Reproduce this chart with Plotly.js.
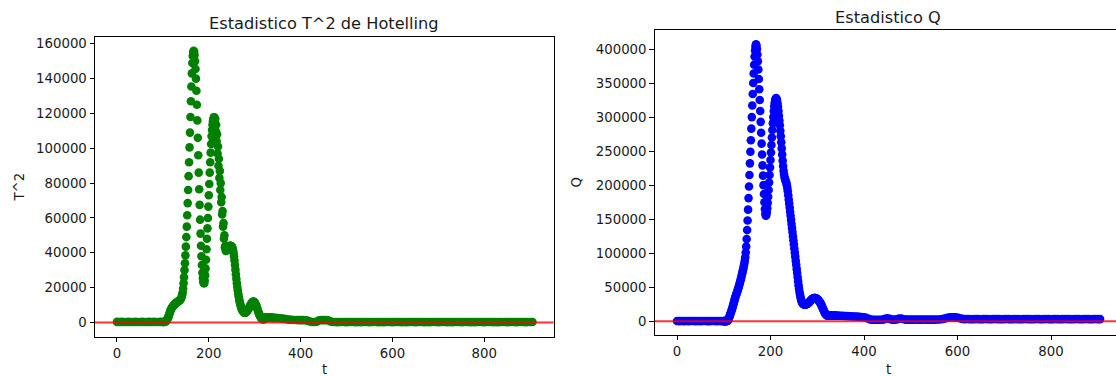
<!DOCTYPE html>
<html>
<head>
<meta charset="utf-8">
<script src="https://cdn.plot.ly/plotly-3.0.1.min.js"></script>
<style>
  html, body { margin: 0; padding: 0; background: #fff; }
  #chart { width: 1116px; height: 376px; }
</style>
</head>
<body>
<div id="chart"></div>
<script>
// ---------------- DATA ----------------
// time index samples (t)
const tHead = [0,5,10,15,20,25,30,35,40,45,50,55,60,65,70,75,80,85,90,95];
const tPeak = [
  100,101,102,103,104,105,106,107,108,109,
  110,111,112,113,114,115,116,117,118,119,
  120,121,122,123,124,125,126,127,128,129,
  130,131,132,133,134,135,136,137,138,139,
  140,141,142,143,144,145,146,147,148,149,
  150,151,152,153,154,155,156,157,158,159,
  160,161,162,163,164,165,166,167,168,169,
  170,171,172,173,174,175,176,177,178,179,
  180,181,182,183,184,185,186,187,188,189,
  190,191,192,193,194,195,196,197,198,199,
  200,201,202,203,204,205,206,207,208,209,
  210,211,212,213,214,215,216,217,218,219,
  220,221,222,223,224,225,226,227,228,229,
  230,231,232,233,234,235,236,237,238,239,
  240,241,242,243,244,245,246,247,248,249,
  250,251,252,253,254,255,256,257,258,259,
  260,261,262,263,264,265,266,267,268,269,
  270,271,272,273,274,275,276,277,278,279,
  280,281,282,283,284,285,286,287,288,289,
  290,291,292,293,294,295,296,297,298,299,
  300,301,302,303,304,305,306,307,308,309,
  310,311,312,313,314,315,316,317,318,319,
  320,321,322,323,324,325,326,327,328,329,
  330,331,332,333,334,335,336,337,338,339,
  340
];
const tTail = [
  345,350,355,360,365,370,375,380,385,390,
  395,400,405,410,415,420,425,430,435,440,
  445,450,455,460,465,470,475,480,485,490,
  495,500,505,510,515,520,525,530,535,540,
  545,550,555,560,565,570,575,580,585,590,
  595,600,605,610,615,620,625,630,635,640,
  645,650,655,660,665,670,675,680,685,690,
  695,700,705,710,715,720,725,730,735,740,
  745,750,755,760,765,770,775,780,785,790,
  795,800,805,810,815,820,825,830,835,840,
  845,850,855,860,865,870,875,880,885,890,
  895,900,905
];

// Hotelling T^2 statistic
const T2Head = [300,250,300,200,250,300,200,250,300,250,200,300,250,200,300,250,300,200,250,300];
const T2Peak = [
  200,200,250,300,350,450,600,800,1100,1500,
  2000,2600,3300,4000,4800,5600,6400,7100,7700,8200,
  8600,9000,9300,9600,9900,10200,10500,10800,11000,11200,
  11400,11600,11800,12000,12200,12400,12600,12900,13200,13600,
  14100,14800,15800,17200,19500,22500,26000,30000,34000,38500,
  43500,49000,55000,61500,68500,76000,84000,92000,100500,109000,
  118000,127000,135500,143000,149000,153000,155300,156000,155500,153500,
  150000,145500,140000,133000,125000,116000,106000,96000,86000,76500,
  67500,59000,51000,44000,38000,33000,28500,25500,23500,22500,
  22500,24000,27000,31000,36000,42000,48000,54000,60000,66500,
  73000,79500,86000,92000,97500,102500,107000,110500,113500,115500,
  117000,117800,117800,115500,117000,110000,113500,104000,108000,97000,
  101000,90000,94000,83000,87000,76000,80000,69000,72000,62000,
  64000,55000,57000,48000,50000,43000,44000,41000,41500,41500,
  42000,42500,43000,43400,43700,43900,44000,44000,43900,43800,
  43600,43100,42300,41200,39700,37800,35500,33000,30300,27600,
  25000,22600,20400,18400,16600,15000,13500,12200,11000,10000,
  9100,8300,7600,7000,6500,6100,5800,5600,5500,5500,
  5600,5800,6100,6400,6800,7200,7600,8100,8600,9100,
  9600,10100,10600,11000,11400,11700,11900,12000,11900,11700,
  11400,11000,10500,9900,9200,8400,7600,6800,6000,5300,
  4600,4000,3500,3000,2600,2300,2100,1900,1800,1800,
  1900,2000,2200,2400,2600,2800,2900,3000,3000,3000,
  3000,3000,2900,2900,2800,2800,2700,2700,2700,2600,
  2600
];
const T2Tail = [
  2600,2500,2400,2200,2000,1800,1600,1500,1400,1400,
  1300,1300,1300,1200,1000,500,200,200,400,1200,
  1300,1300,1300,1200,600,200,
  200,150,200,250,200,150,200,250,200,150,
  200,150,200,250,200,150,200,250,200,150,
  200,150,200,250,200,150,200,250,200,150,
  200,150,200,250,200,150,200,250,200,150,
  200,150,200,250,200,150,200,250,200,150,
  200,150,200,250,200,150,200,250,200,150,
  200,150,200,250,200,150,200,250,200,150,
  200,150,200,250,200,150,200,250,200,150,
  200,250,200,150,200,250,200
];

// Q statistic
const QHead = [400,300,350,300,400,300,350,400,300,350,300,400,350,300,300,350,400,300,350,300];
const QPeak = [
  300,300,300,300,300,300,350,450,700,1200,
  2500,4500,6500,8500,10500,12500,14500,16500,18500,21000,
  23500,26000,28500,31000,33500,36000,38000,40000,42000,44000,
  46000,48000,50500,53000,55500,58000,60500,63000,66000,69000,
  72000,75000,78000,81500,85000,89000,94000,101000,110000,121000,
  134000,148000,164000,181000,198000,215000,232000,249000,266000,283000,
  300000,317000,334000,350000,364000,377000,389000,398000,404000,407000,
  405000,400000,392000,382000,370000,356000,341000,325000,309000,293000,
  277000,261000,245000,229000,214000,200000,187000,175000,165000,158000,
  155000,156000,160000,166000,174000,183000,193000,204000,215000,226000,
  237000,248000,259000,270000,281000,291000,300000,309000,316000,321000,
  325000,327000,328000,327000,324000,320000,315000,309000,302000,295000,
  288000,280000,272000,263000,254000,245000,236000,228000,221000,216000,
  212000,209000,207000,205000,203000,200000,196000,191000,185000,179000,
  173000,167000,161000,155000,149000,143000,137000,131000,125000,119000,
  113000,107000,101000,95000,89000,83000,77000,71000,65000,59000,
  53000,48000,43500,39500,36000,33000,30500,28500,27000,26000,
  25500,25000,24700,24500,24500,24600,24800,25000,25300,25700,
  26200,26800,27500,28200,29000,29800,30600,31300,32000,32600,
  33100,33500,33800,34000,34100,34100,34000,33800,33500,33100,
  32600,32000,31300,30500,29600,28600,27500,26300,25000,23600,
  22100,20500,18900,17300,15700,14200,12800,11500,10400,9500,
  8900,8500,8300,8300,8300,8300,8300,8300,8300,8300,
  8300,8300,8300,8300,8300,8300,8300,8300,8300,8300,
  8300
];
const QTail = [
  8300,8200,8000,7800,7600,7400,7200,7000,6800,6600,
  6300,6000,5200,3500,2500,2300,2200,2200,2300,2500,
  3500,4500,3500,2500,2400,2800,4000,4200,3000,2500,
  2500,2400,2500,2600,2500,2400,2500,2600,2500,2500,
  2400,2500,2600,2700,
  3000,3500,4500,5500,6000,6000,5800,5500,4500,3500,
  3200,3300,3200,3100,3200,3300,3200,3100,3200,3300,
  3200,3100,3200,3300,3200,3200,3100,3200,3300,3200,
  3100,3200,3300,3200,3100,3200,3300,3200,3200,3100,
  3200,3300,3200,3100,3200,3300,3200,3100,3200,3300,
  3200,3100,3200,3300,3200,3200,3100,3200,3300,3200,
  3100,3200,3300,3200,3100,3200,3300,3200,3200
];

// control limits (red horizontal lines)
const limitT2 = 0;
const limitQ = 0;

// labels
const titleT2 = 'Estadistico T^2 de Hotelling';
const titleQ = 'Estadistico Q';
const xLabel = 't';
const yLabelT2 = 'T^2';
const yLabelQ = 'Q';

// ---------------- BUILD ----------------
const t = tHead.concat(tPeak, tTail);
const T2 = T2Head.concat(T2Peak, T2Tail);
const Q = QHead.concat(QPeak, QTail);
if (t.length !== T2.length || t.length !== Q.length) {
  throw new Error('length mismatch t=' + t.length + ' T2=' + T2.length + ' Q=' + Q.length);
}

const W = 1116, H = 376;
const FONT = 'DejaVu Sans, Liberation Sans, sans-serif';
const TXT = '#1a1a1a';
const px = v => v / W;
const py = v => 1 - v / H;
const TICK_SIZE = 13.3;

const traces = [
  { x: t, y: T2, type: 'scatter', mode: 'markers', xaxis: 'x', yaxis: 'y',
    marker: { color: '#008000', size: 8.6, line: { width: 0 } }, hoverinfo: 'x+y' },
  { x: t, y: Q, type: 'scatter', mode: 'markers', xaxis: 'x2', yaxis: 'y2',
    marker: { color: '#0000ff', size: 8.6, line: { width: 0 } }, hoverinfo: 'x+y' }
];

const axBase = {
  showgrid: false, zeroline: false, showline: true, linecolor: '#000', linewidth: 1,
  ticks: 'outside', ticklen: 4.5, tickwidth: 1, tickcolor: '#000',
  tickfont: { family: FONT, size: TICK_SIZE, color: TXT }
};

const layout = {
  width: W, height: H,
  margin: { l: 0, r: 0, t: 0, b: 0 },
  paper_bgcolor: '#fff', plot_bgcolor: '#fff',
  showlegend: false,
  xaxis: Object.assign({}, axBase, {
    domain: [px(95), px(553.7)], range: [-47.9, 951.2], tick0: 0, dtick: 200, mirror: true, anchor: 'y'
  }),
  yaxis: Object.assign({}, axBase, {
    domain: [py(336.7), py(37.3)], range: [-8212, 163733], tick0: 0, dtick: 20000,
    tickformat: 'd', mirror: true, anchor: 'x'
  }),
  xaxis2: Object.assign({}, axBase, {
    domain: [px(654.7), 1], range: [-47.7, 939.0], tick0: 0, dtick: 200, mirror: true, anchor: 'y2'
  }),
  yaxis2: Object.assign({}, axBase, {
    domain: [py(334.7), py(30.3)], range: [-19700, 427500], tick0: 0, dtick: 50000,
    tickformat: 'd', mirror: false, anchor: 'x2'
  }),
  shapes: [
    { type: 'line', xref: 'x domain', yref: 'y', x0: 0, x1: 1, y0: limitT2, y1: limitT2,
      line: { color: 'rgba(255,0,0,0.8)', width: 2 }, layer: 'above' },
    { type: 'line', xref: 'x2 domain', yref: 'y2', x0: 0, x1: 1, y0: limitQ, y1: limitQ,
      line: { color: 'rgba(255,0,0,0.8)', width: 2 }, layer: 'above' }
  ],
  annotations: [
    { text: titleT2, xref: 'paper', yref: 'paper', x: px(324.3), y: py(24), xanchor: 'center', yanchor: 'middle',
      showarrow: false, font: { family: FONT, size: 16.2, color: TXT } },
    { text: titleQ, xref: 'paper', yref: 'paper', x: px(888.2), y: py(18), xanchor: 'center', yanchor: 'middle',
      showarrow: false, font: { family: FONT, size: 16.2, color: TXT } },
    { text: xLabel, xref: 'paper', yref: 'paper', x: px(324.3), y: py(369), xanchor: 'center', yanchor: 'middle',
      showarrow: false, font: { family: FONT, size: TICK_SIZE, color: TXT } },
    { text: xLabel, xref: 'paper', yref: 'paper', x: px(888.2), y: py(369), xanchor: 'center', yanchor: 'middle',
      showarrow: false, font: { family: FONT, size: TICK_SIZE, color: TXT } },
    { text: yLabelT2, xref: 'paper', yref: 'paper', x: px(18.5), y: py(187), xanchor: 'center', yanchor: 'middle',
      textangle: -90, showarrow: false, font: { family: FONT, size: TICK_SIZE, color: TXT } },
    { text: yLabelQ, xref: 'paper', yref: 'paper', x: px(576), y: py(182.5), xanchor: 'center', yanchor: 'middle',
      textangle: -90, showarrow: false, font: { family: FONT, size: TICK_SIZE, color: TXT } }
  ]
};

Plotly.newPlot('chart', traces, layout, { displayModeBar: false, staticPlot: true });
</script>
</body>
</html>
